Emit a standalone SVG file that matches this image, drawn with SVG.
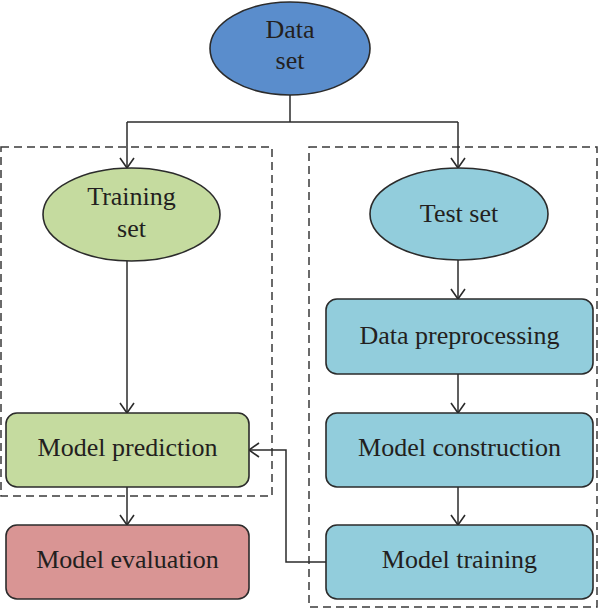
<svg xmlns="http://www.w3.org/2000/svg" width="600" height="609" viewBox="0 0 600 609">
<defs>
<marker id="arr" viewBox="0 0 12 16" refX="11" refY="8" markerWidth="12" markerHeight="16" markerUnits="userSpaceOnUse" orient="auto">
<path d="M1,1 L11,8 L1,15" fill="none" stroke="#2b2b2b" stroke-width="1.6"/>
</marker>
</defs>
<style>
text{font-family:"Liberation Serif","Times New Roman",serif;font-size:26px;fill:#231f20;text-anchor:middle}
.shape{stroke:#2b2b2b;stroke-width:1.6}
.dash{fill:none;stroke:#3a3a3a;stroke-width:1.5;stroke-dasharray:8,5}
.conn{fill:none;stroke:#2b2b2b;stroke-width:1.5}
</style>
<g id="groups">
<rect class="dash" x="1" y="147" width="271" height="349"/>
<rect class="dash" x="309" y="147" width="288" height="460"/>
</g>
<g id="connectors">
<path class="conn" d="M290,95 V122"/>
<path class="conn" d="M127,122 H458"/>
<path class="conn" d="M127,122 V168" marker-end="url(#arr)"/>
<path class="conn" d="M458,122 V168" marker-end="url(#arr)"/>
<path class="conn" d="M458,260 V299" marker-end="url(#arr)"/>
<path class="conn" d="M458,374 V413" marker-end="url(#arr)"/>
<path class="conn" d="M458,487 V525" marker-end="url(#arr)"/>
<path class="conn" d="M127,261 V413" marker-end="url(#arr)"/>
<path class="conn" d="M127,487 V525" marker-end="url(#arr)"/>
<path class="conn" d="M326,562 H286 V450 H249" marker-end="url(#arr)"/>
</g>
<g id="data-set">
<ellipse class="shape" cx="290" cy="48.5" rx="80" ry="46.5" fill="#5a8dcc"/>
<text x="290" y="38">Data</text>
<text x="290" y="69">set</text>
</g>
<g id="training-set">
<ellipse class="shape" cx="131.5" cy="214.5" rx="88.5" ry="46.5" fill="#c5db9f"/>
<text x="131.5" y="205">Training</text>
<text x="131.5" y="237">set</text>
</g>
<g id="test-set">
<ellipse class="shape" cx="459" cy="214" rx="89" ry="46" fill="#92cddc"/>
<text x="459" y="222">Test set</text>
</g>
<g id="data-preprocessing">
<rect class="shape" x="326" y="299" width="267" height="75" rx="11" fill="#92cddc"/>
<text x="459.5" y="344">Data preprocessing</text>
</g>
<g id="model-construction">
<rect class="shape" x="326" y="413" width="267" height="74" rx="11" fill="#92cddc"/>
<text x="459.5" y="456">Model construction</text>
</g>
<g id="model-training">
<rect class="shape" x="326" y="525" width="267" height="74" rx="11" fill="#92cddc"/>
<text x="459.5" y="568">Model training</text>
</g>
<g id="model-prediction">
<rect class="shape" x="6" y="413" width="243" height="74" rx="11" fill="#c5db9f"/>
<text x="127.5" y="456">Model prediction</text>
</g>
<g id="model-evaluation">
<rect class="shape" x="6" y="525" width="243" height="74" rx="11" fill="#d99594"/>
<text x="127.5" y="568">Model evaluation</text>
</g>
</svg>
